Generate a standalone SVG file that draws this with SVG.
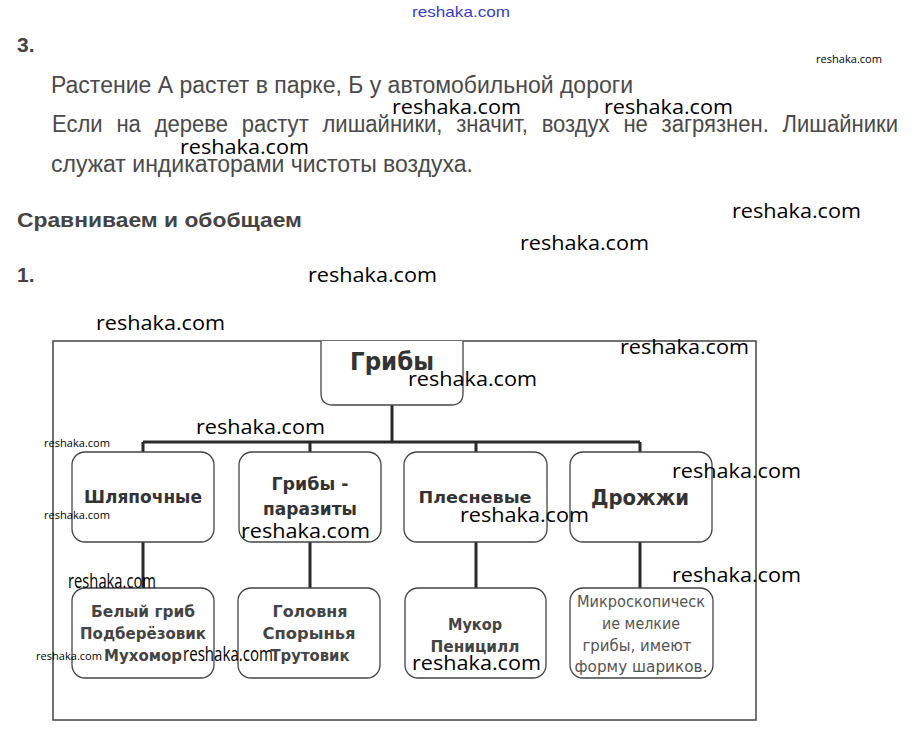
<svg xmlns="http://www.w3.org/2000/svg" width="922" height="736" viewBox="0 0 922 736">
<style>
.bg{fill:#fff}
.para{font-family:"Liberation Sans",Arial,sans-serif;font-size:23px;fill:#4a4a4a}
.head{font-family:"Liberation Sans",Arial,sans-serif;font-size:21px;font-weight:bold;fill:#444}
.wm{font-family:"Open Sans","DejaVu Sans",sans-serif;font-size:20px;fill:#000}
.wms{font-family:"Open Sans","DejaVu Sans",sans-serif;font-size:10px;fill:#000}
.box{fill:#fff;stroke:#444;stroke-width:1.3}
.frame{fill:none;stroke:#444;stroke-width:1.5}
.conn{fill:none;stroke:#2a2a2a;stroke-width:3}
.t1{font-family:"DejaVu Sans",Verdana,sans-serif;font-weight:bold;fill:#333;text-anchor:middle}
.t3{font-family:"DejaVu Sans",Verdana,sans-serif;font-weight:bold;font-size:16px;fill:#444;text-anchor:middle}
.t4{font-family:"DejaVu Sans",Verdana,sans-serif;font-size:15px;fill:#555;text-anchor:middle}
</style>
<rect class="bg" x="0" y="0" width="922" height="736"/>

<text x="461" y="17" text-anchor="middle" font-family="'Liberation Sans',sans-serif" font-size="15" fill="#3a3ad0" textLength="98" lengthAdjust="spacingAndGlyphs">reshaka.com</text>
<text x="17" y="52" class="head" font-size="20">3.</text>
<text x="51" y="93" class="para" textLength="582" lengthAdjust="spacingAndGlyphs">Растение А растет в парке, Б у автомобильной дороги</text>
<text x="52" y="132" class="para" word-spacing="8" textLength="846" lengthAdjust="spacingAndGlyphs">Если на дереве растут лишайники, значит, воздух не загрязнен. Лишайники</text>
<text x="51" y="172" class="para" textLength="422" lengthAdjust="spacingAndGlyphs">служат индикаторами чистоты воздуха.</text>
<text x="17" y="227" class="head" textLength="285" lengthAdjust="spacingAndGlyphs">Сравниваем и обобщаем</text>
<text x="17" y="282" class="head" font-size="20">1.</text>

<rect class="frame" x="53" y="341" width="703" height="379"/>

<g id="connectors">
<path class="conn" d="M392 405V442M143 442H640M143 442V452M310 442V452M476 442V452M640 442V452"/>
<path class="conn" d="M143 542V588M310 542V588M476 542V588M640 542V588"/>
</g>

<g id="node-griby">
<path class="box" d="M321 341V393Q321 405 333 405H451Q463 405 463 393V341"/>
<text class="t1" x="392" y="370" font-size="24" textLength="84" lengthAdjust="spacingAndGlyphs">Грибы</text>
</g>

<g id="node-shlyapochnye">
<rect class="box" x="72" y="452" width="142" height="90" rx="13"/>
<text class="t1" x="143" y="503" font-size="17" textLength="118" lengthAdjust="spacingAndGlyphs">Шляпочные</text>
</g>
<g id="node-parazity">
<rect class="box" x="239" y="452" width="142" height="90" rx="13"/>
<text class="t1" x="310" y="490" font-size="17" textLength="77" lengthAdjust="spacingAndGlyphs">Грибы -</text>
<text class="t1" x="310" y="515" font-size="17" textLength="94" lengthAdjust="spacingAndGlyphs">паразиты</text>
</g>
<g id="node-plesnevye">
<rect class="box" x="404" y="452" width="143" height="90" rx="13"/>
<text class="t1" x="475" y="503" font-size="16" textLength="113" lengthAdjust="spacingAndGlyphs">Плесневые</text>
</g>
<g id="node-drozhzhi">
<rect class="box" x="570" y="452" width="142" height="90" rx="13"/>
<text class="t1" x="640" y="505" font-size="22" textLength="98" lengthAdjust="spacingAndGlyphs">Дрожжи</text>
</g>

<g id="node-list1">
<rect class="box" x="72" y="588" width="142" height="90" rx="13"/>
<text class="t3" x="143" y="617" textLength="104" lengthAdjust="spacingAndGlyphs">Белый гриб</text>
<text class="t3" x="143" y="639" textLength="126" lengthAdjust="spacingAndGlyphs">Подберёзовик</text>
<text class="t3" x="143" y="661" textLength="78" lengthAdjust="spacingAndGlyphs">Мухомор</text>
</g>
<g id="node-list2">
<rect class="box" x="238" y="588" width="142" height="90" rx="13"/>
<text class="t3" x="310" y="617" textLength="75" lengthAdjust="spacingAndGlyphs">Головня</text>
<text class="t3" x="309" y="639" textLength="93" lengthAdjust="spacingAndGlyphs">Спорынья</text>
<text class="t3" x="310" y="661" textLength="79" lengthAdjust="spacingAndGlyphs">Трутовик</text>
</g>
<g id="node-list3">
<rect class="box" x="405" y="588" width="141" height="90" rx="13"/>
<text class="t3" x="475" y="630" textLength="54" lengthAdjust="spacingAndGlyphs">Мукор</text>
<text class="t3" x="475" y="652" textLength="89" lengthAdjust="spacingAndGlyphs">Пеницилл</text>
</g>
<g id="node-list4">
<rect class="box" x="570" y="588" width="143" height="90" rx="13"/>
<text class="t4" x="641" y="607" textLength="128" lengthAdjust="spacingAndGlyphs">Микроскопическ</text>
<text class="t4" x="641" y="629" textLength="78" lengthAdjust="spacingAndGlyphs">ие мелкие</text>
<text class="t4" x="637" y="651" textLength="109" lengthAdjust="spacingAndGlyphs">грибы, имеют</text>
<text class="t4" x="641" y="672" textLength="133" lengthAdjust="spacingAndGlyphs">форму шариков.</text>
</g>

<g id="watermarks">
<text class="wms" x="816" y="63" textLength="66" lengthAdjust="spacingAndGlyphs">reshaka.com</text>
<text class="wm" x="392" y="114" textLength="129" lengthAdjust="spacingAndGlyphs">reshaka.com</text>
<text class="wm" x="604" y="114" textLength="129" lengthAdjust="spacingAndGlyphs">reshaka.com</text>
<text class="wm" x="180" y="154" textLength="129" lengthAdjust="spacingAndGlyphs">reshaka.com</text>
<text class="wm" x="732" y="218" textLength="129" lengthAdjust="spacingAndGlyphs">reshaka.com</text>
<text class="wm" x="520" y="250" textLength="129" lengthAdjust="spacingAndGlyphs">reshaka.com</text>
<text class="wm" x="308" y="282" textLength="129" lengthAdjust="spacingAndGlyphs">reshaka.com</text>
<text class="wm" x="96" y="330" textLength="129" lengthAdjust="spacingAndGlyphs">reshaka.com</text>
<text class="wm" x="620" y="354" textLength="129" lengthAdjust="spacingAndGlyphs">reshaka.com</text>
<text class="wm" x="408" y="386" textLength="129" lengthAdjust="spacingAndGlyphs">reshaka.com</text>
<text class="wm" x="196" y="434" textLength="129" lengthAdjust="spacingAndGlyphs">reshaka.com</text>
<text class="wms" x="44" y="447" textLength="66" lengthAdjust="spacingAndGlyphs">reshaka.com</text>
<text class="wm" x="672" y="478" textLength="129" lengthAdjust="spacingAndGlyphs">reshaka.com</text>
<text class="wms" x="44" y="519" textLength="66" lengthAdjust="spacingAndGlyphs">reshaka.com</text>
<text class="wm" x="460" y="522" textLength="129" lengthAdjust="spacingAndGlyphs">reshaka.com</text>
<text class="wm" x="241" y="538" textLength="129" lengthAdjust="spacingAndGlyphs">reshaka.com</text>
<text class="wm" x="672" y="582" textLength="129" lengthAdjust="spacingAndGlyphs">reshaka.com</text>
<text class="wm" x="68" y="588" font-size="13" textLength="88" lengthAdjust="spacingAndGlyphs">reshaka.com</text>
<text class="wms" x="36" y="660" textLength="66" lengthAdjust="spacingAndGlyphs">reshaka.com</text>
<text class="wm" x="183" y="661" font-size="14" textLength="90" lengthAdjust="spacingAndGlyphs">reshaka.com</text>
<text class="wm" x="412" y="670" textLength="129" lengthAdjust="spacingAndGlyphs">reshaka.com</text>
</g>
</svg>
